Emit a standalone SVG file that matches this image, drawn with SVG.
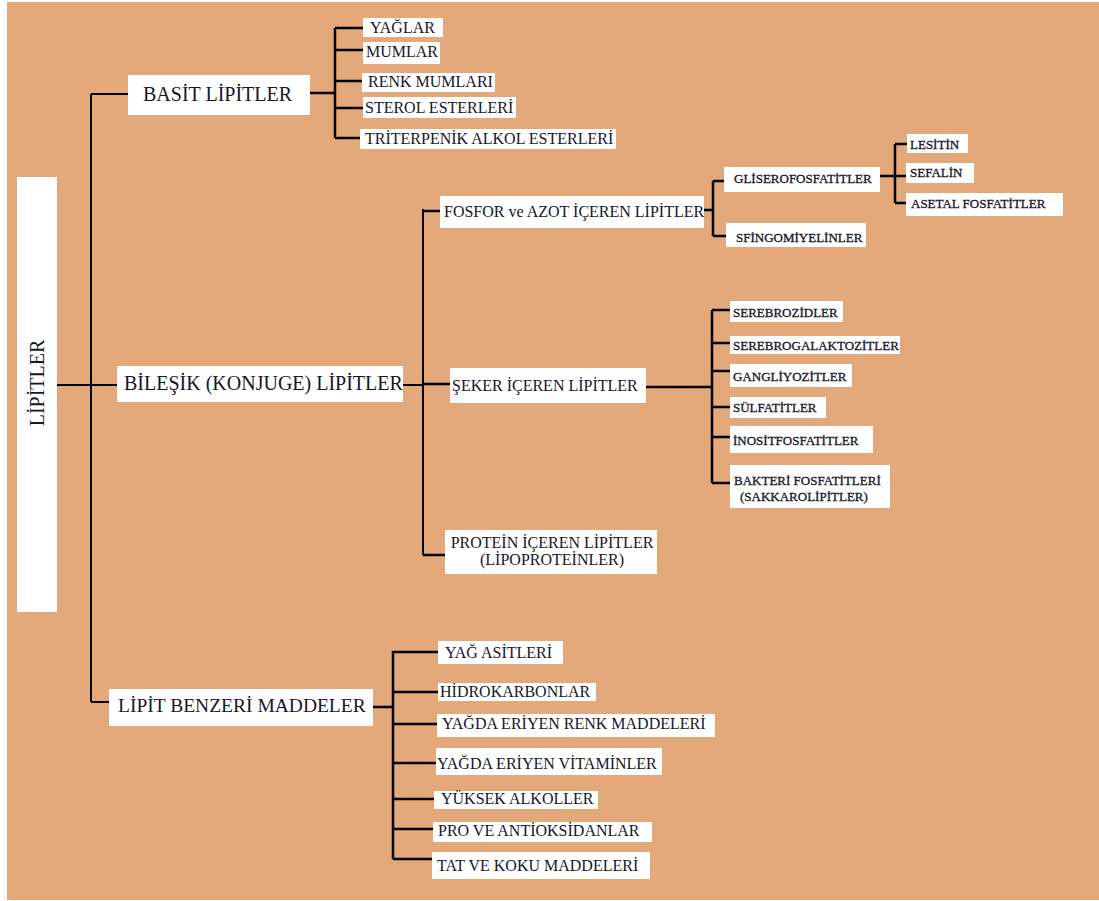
<svg xmlns="http://www.w3.org/2000/svg" width="1099" height="901" viewBox="0 0 1099 901">
<style>
.bg{fill:#E3A97B}
.box{fill:#fff}
.t{font-family:"Liberation Serif","Times New Roman",serif;fill:#15162a}
.L{font-size:20px}
.M{font-size:16px}
.S{font-size:13px;stroke:#15162a;stroke-width:0.3}
.c{fill:none;stroke:#000;stroke-width:2.5}
.c2{fill:none;stroke:#000;stroke-width:2}
</style>
<rect x="0" y="0" width="1099" height="901" fill="#fff"/>
<rect class="bg" x="7" y="2" width="1092" height="898"/>

<g id="connectors">
  <!-- root -->
  <path class="c2" d="M57 385H117"/>
  <path class="c2" d="M91 94V702"/>
  <path class="c2" d="M91 94H128"/>
  <path class="c2" d="M91 702H109"/>
  <!-- basit -->
  <path class="c" d="M310 93H335"/>
  <path class="c" d="M335 28V138"/>
  <path class="c" d="M335 28H363M335 50H363M335 81H362M335 108H363M335 138H360"/>
  <!-- bilesik -->
  <path class="c2" d="M403 385H423"/>
  <path class="c2" d="M423 209V555"/>
  <path class="c" d="M423 211H440M423 384H450M423 555H445"/>
  <!-- fosfor -->
  <path class="c" d="M704 210H713M713 181V236M713 181H724M713 236H726"/>
  <path class="c" d="M880 176H906M895 144V203M895 144H907M895 203H906"/>
  <!-- seker -->
  <path class="c" d="M646 387H712M712 310V483"/>
  <path class="c" d="M712 310H730M712 343H730M712 371H730M712 407H730M712 437H730M712 483H730"/>
  <!-- lipit benzeri -->
  <path class="c" d="M373 707H393M393 651V859"/>
  <path class="c" d="M393 652H438M393 692H438M393 724H437M393 763H436M393 799H434M393 829H433M393 859H432"/>
</g>

<g id="lipitler">
  <rect class="box" x="17" y="177" width="40" height="435"/>
  <text class="t L" transform="translate(44 383) rotate(-90)" text-anchor="middle">LİPİTLER</text>
</g>

<g id="basit">
  <rect class="box" x="128" y="75" width="182" height="40"/>
  <text class="t L" x="143" y="101">BASİT LİPİTLER</text>
</g>
<g id="yaglar"><rect class="box" x="363" y="18" width="80" height="19"/><text class="t M" x="370" y="33">YAĞLAR</text></g>
<g id="mumlar"><rect class="box" x="363" y="42" width="77" height="22"/><text class="t M" x="366" y="57">MUMLAR</text></g>
<g id="renkmumlari"><rect class="box" x="362" y="73" width="133" height="19"/><text class="t M" x="368" y="87">RENK MUMLARI</text></g>
<g id="sterol"><rect class="box" x="363" y="97" width="153" height="21"/><text class="t M" x="365" y="113">STEROL ESTERLERİ</text></g>
<g id="triterpenik"><rect class="box" x="360" y="129" width="256" height="20"/><text class="t M" x="365" y="144">TRİTERPENİK ALKOL ESTERLERİ</text></g>

<g id="bilesik">
  <rect class="box" x="117" y="366" width="286" height="36"/>
  <text class="t L" x="124" y="390">BİLEŞİK (KONJUGE) LİPİTLER</text>
</g>
<g id="fosfor"><rect class="box" x="440" y="196" width="264" height="32"/><text class="t M" x="444" y="217">FOSFOR ve AZOT İÇEREN LİPİTLER</text></g>
<g id="glisero"><rect class="box" x="724" y="167" width="156" height="25"/><text class="t S" x="734" y="183">GLİSEROFOSFATİTLER</text></g>
<g id="sfingo"><rect class="box" x="726" y="223" width="140" height="24"/><text class="t S" x="736" y="242">SFİNGOMİYELİNLER</text></g>
<g id="lesitin"><rect class="box" x="907" y="134" width="61" height="19"/><text class="t S" x="910" y="149">LESİTİN</text></g>
<g id="sefalin"><rect class="box" x="906" y="163" width="68" height="20"/><text class="t S" x="910" y="177">SEFALİN</text></g>
<g id="asetal"><rect class="box" x="906" y="193" width="157" height="23"/><text class="t S" x="911" y="208">ASETAL FOSFATİTLER</text></g>

<g id="seker"><rect class="box" x="450" y="368" width="196" height="35"/><text class="t M" x="452" y="391">ŞEKER İÇEREN LİPİTLER</text></g>
<g id="serebrozid"><rect class="box" x="730" y="301" width="113" height="21"/><text class="t S" x="733" y="317">SEREBROZİDLER</text></g>
<g id="serebrogal"><rect class="box" x="730" y="336" width="170" height="18"/><text class="t S" x="733" y="350">SEREBROGALAKTOZİTLER</text></g>
<g id="gangliyozit"><rect class="box" x="730" y="364" width="122" height="23"/><text class="t S" x="733" y="381">GANGLİYOZİTLER</text></g>
<g id="sulfatit"><rect class="box" x="730" y="397" width="96" height="21"/><text class="t S" x="733" y="412">SÜLFATİTLER</text></g>
<g id="inosit"><rect class="box" x="730" y="426" width="143" height="27"/><text class="t S" x="733" y="445">İNOSİTFOSFATİTLER</text></g>
<g id="bakteri"><rect class="box" x="730" y="465" width="160" height="43"/><text class="t S" x="734" y="485">BAKTERİ FOSFATİTLERİ</text><text class="t S" x="740" y="501">(SAKKAROLİPİTLER)</text></g>

<g id="protein"><rect class="box" x="445" y="530" width="212" height="44"/><text class="t M" x="552" y="548" text-anchor="middle">PROTEİN İÇEREN LİPİTLER</text><text class="t M" x="552" y="565" text-anchor="middle">(LİPOPROTEİNLER)</text></g>

<g id="benzeri"><rect class="box" x="109" y="689" width="264" height="37"/><text class="t L" x="118" y="712" style="font-size:19.5px">LİPİT BENZERİ MADDELER</text></g>
<g id="yagasit"><rect class="box" x="438" y="641" width="125" height="23"/><text class="t M" x="445" y="658">YAĞ ASİTLERİ</text></g>
<g id="hidrokarbon"><rect class="box" x="438" y="683" width="158" height="18"/><text class="t M" x="440" y="697">HİDROKARBONLAR</text></g>
<g id="renkmadde"><rect class="box" x="437" y="714" width="278" height="23"/><text class="t M" x="442" y="729">YAĞDA ERİYEN RENK MADDELERİ</text></g>
<g id="vitamin"><rect class="box" x="436" y="748" width="226" height="27"/><text class="t M" x="437" y="769">YAĞDA ERİYEN VİTAMİNLER</text></g>
<g id="alkol"><rect class="box" x="434" y="791" width="164" height="18"/><text class="t M" x="441" y="804">YÜKSEK ALKOLLER</text></g>
<g id="antioks"><rect class="box" x="433" y="822" width="219" height="20"/><text class="t M" x="438" y="836">PRO VE ANTİOKSİDANLAR</text></g>
<g id="tatkoku"><rect class="box" x="432" y="852" width="218" height="27"/><text class="t M" x="437" y="871">TAT VE KOKU MADDELERİ</text></g>
</svg>
